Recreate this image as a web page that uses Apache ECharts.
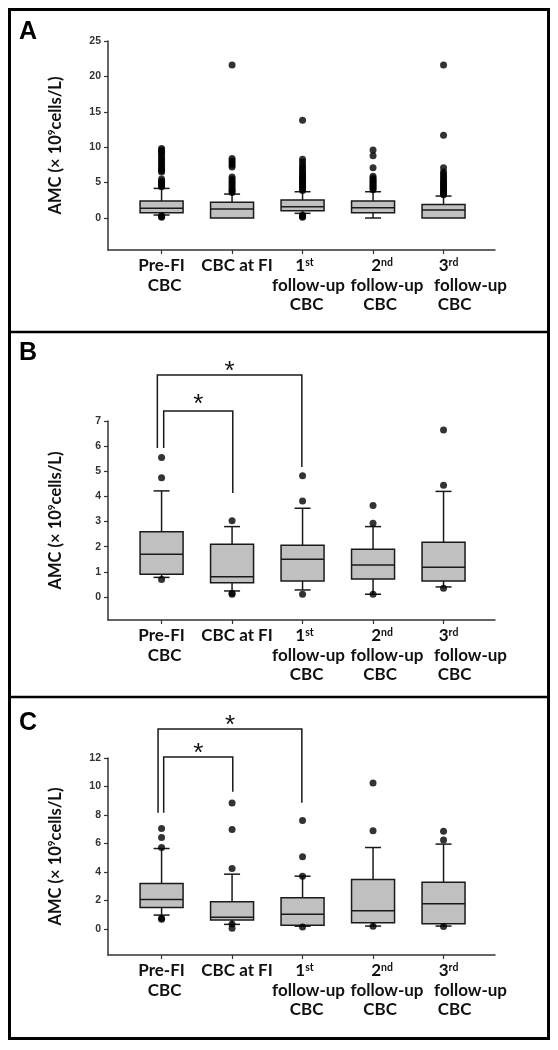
<!DOCTYPE html>
<html><head><meta charset="utf-8">
<script src="https://cdn.jsdelivr.net/npm/echarts@6/dist/echarts.min.js"></script>
<style>html,body{margin:0;padding:0;background:#fff}#c{width:558px;height:1050px}</style>
</head><body><div id="c"></div>
<script>
// ---------- data ----------
const categories = ['Pre-FI\nCBC', 'CBC at FI', '1st\nfollow-up\nCBC', '2nd\nfollow-up\nCBC', '3rd\nfollow-up\nCBC'];
const catX = [0, 1, 2, 3, 4];
const yTitle = '{n|AMC (× 10}{s|9}{n|cells/L)}';
const panelLetters = ['A', 'B', 'C'];

const ticksA = [0, 5, 10, 15, 20, 25];
const ticksB = [0, 1, 2, 3, 4, 5, 6, 7];
const ticksC = [0, 2, 4, 6, 8, 10, 12];

// Panel A
const aLower  = [0.42, 0.00, 0.66, 0.00, 0.00];
const aQ1     = [0.75, 0.00, 1.03, 0.75, 0.00];
const aMedian = [1.37, 1.27, 1.60, 1.46, 1.13];
const aQ3     = [2.40, 2.21, 2.54, 2.39, 1.92];
const aUpper  = [4.18, 3.38, 3.71, 3.71, 3.10];
const aOutliers = [
  [4.4, 4.6, 4.8, 5.0, 5.2, 5.5, 6.5, 6.7, 6.9, 7.1, 7.4, 7.7, 8.0, 8.3, 8.6, 8.9, 9.2, 9.4, 9.6, 9.8, 0.1, 0.2, 0.3],
  [3.6, 3.8, 4.0, 4.3, 4.6, 4.9, 5.2, 5.5, 5.8, 7.2, 7.5, 7.8, 8.1, 8.4, 21.6],
  [3.9, 4.1, 4.3, 4.5, 4.7, 4.9, 5.1, 5.3, 5.5, 5.7, 5.9, 6.1, 6.3, 6.6, 6.9, 7.2, 7.5, 7.9, 8.3, 13.8, 0.1, 0.2, 0.3, 0.4],
  [4.0, 4.2, 4.4, 4.6, 4.8, 5.0, 5.2, 5.4, 5.6, 5.9, 7.1, 8.8, 9.6],
  [3.3, 3.5, 3.7, 3.9, 4.1, 4.3, 4.5, 4.7, 4.9, 5.1, 5.3, 5.6, 5.9, 6.2, 6.5, 7.1, 11.7, 21.6]
];

// Panel B
const bLower  = [0.78, 0.24, 0.28, 0.11, 0.40];
const bQ1     = [0.90, 0.57, 0.64, 0.72, 0.64];
const bMedian = [1.70, 0.81, 1.50, 1.27, 1.18];
const bQ3     = [2.60, 2.10, 2.06, 1.90, 2.18];
const bUpper  = [4.22, 2.80, 3.53, 2.80, 4.20];
const bOutliers = [[5.55, 4.74, 0.70], [3.03, 0.11, 0.15], [4.82, 3.82, 0.11], [3.64, 2.93, 0.11], [6.64, 4.44, 0.35]];
const bBracketX1 = [-0.06, 0.03];
const bBracketX2 = [1.99, 1.01];
const bBracketTop = [8.83, 7.40];
const bBracketLeftEnd = [5.93, 5.93];
const bBracketRightEnd = [5.17, 4.14];
const bStarY = [9.23, 7.92];

// Panel C
const cLower  = [0.98, 0.33, 0.20, 0.21, 0.21];
const cQ1     = [1.52, 0.63, 0.26, 0.45, 0.37];
const cMedian = [2.08, 0.82, 1.03, 1.28, 1.77];
const cQ3     = [3.20, 1.92, 2.19, 3.48, 3.29];
const cUpper  = [5.65, 3.85, 3.71, 5.72, 5.96];
const cOutliers = [[7.05, 6.42, 5.72, 0.75, 0.68], [8.85, 6.98, 4.25, 0.05, 0.35], [7.62, 5.07, 3.71, 0.15], [10.25, 6.89, 0.20], [6.87, 6.24, 0.18]];
const cBracketX1 = [-0.05, 0.03];
const cBracketX2 = [1.99, 1.01];
const cBracketTop = [14.04, 12.07];
const cBracketLeftEnd = [8.16, 8.16];
const cBracketRightEnd = [8.86, 9.64];
const cStarY = [14.74, 12.77];

// ---------- styles ----------
const X_MIN = -0.76, X_MAX = 4.73;
const labelShift = [[0, 3], [5], [2, 6, 4], [9, 14, 7], [5, 27, 11]];
const LINE = '#1a1a1a';
const CAP = 8;
const catFont = 'Lato';
const catSize = 17;

const rich = { sup: { fontSize: 10.5, fontWeight: 'bold', fontFamily: catFont, color: '#111', padding: [0, 0, 6, 0] } };
for (let s = 0; s <= 30; s++) {
  rich['p' + s] = { fontSize: catSize, fontWeight: 'bold', fontFamily: catFont, color: '#111', lineHeight: 19.5, padding: [0, 0, 0, 2 * s] };
}
function fmtCat(v) {
  const i = Math.round(v);
  if (Math.abs(v - i) > 1e-6 || i < 0 || i >= categories.length) return ' ';
  return categories[i].split('\n').map((ln, j) => {
    const key = 'p' + (labelShift[i][j] || 0);
    const m = ln.match(/^(\d)(st|nd|rd|th)$/);
    if (m) return '{' + key + '|' + m[1] + '}{sup|' + m[2] + '}';
    return '{' + key + '|' + ln + '}';
  }).join('\n');
}

const grids = [
  { left: 108, right: 63, top: 41, height: 209 },
  { left: 108, right: 63, top: 421, height: 199 },
  { left: 108, right: 63, top: 758, height: 197 }
];
const yRanges = [[-4.52, 25, ticksA], [-0.915, 7, ticksB], [-1.82, 12, ticksC]];

const xAxes = grids.map((g, i) => ({
  type: 'value', gridIndex: i, min: X_MIN, max: X_MAX,
  axisLine: { show: true, onZero: false, lineStyle: { color: '#333', width: 1.5 } },
  axisTick: { show: true, customValues: catX, length: 4, lineStyle: { color: '#333', width: 1.2 } },
  // trailing blank label at the axis end absorbs the end-label overlap check
  axisLabel: { customValues: catX.concat([X_MAX]), formatter: fmtCat, margin: 6, rich: rich, hideOverlap: false,
    fontSize: catSize, fontFamily: catFont, fontWeight: 'bold', color: '#111' },
  splitLine: { show: false }
}));
const yAxes = yRanges.map((r, i) => ({
  type: 'value', gridIndex: i, min: r[0], max: r[1],
  name: yTitle, nameLocation: 'middle', nameGap: 44,
  nameTextStyle: {
    rich: {
      n: { fontSize: 16.5, fontWeight: 'bold', fontFamily: catFont, color: '#111' },
      s: { fontSize: 10, fontWeight: 'bold', fontFamily: catFont, color: '#111', padding: [0, 0, 7, 0] }
    }
  },
  axisLine: { show: true, onZero: false, lineStyle: { color: '#333', width: 1.5 } },
  axisTick: { show: true, customValues: r[2], length: 4, lineStyle: { color: '#333', width: 1.2 } },
  axisLabel: { customValues: r[2], margin: 7, hideOverlap: false, fontSize: 10.5, fontWeight: 'bold', fontFamily: 'Liberation Sans', color: '#333' },
  splitLine: { show: false }
}));

function boxSeries(idx, q1, med, q3) {
  return {
    type: 'boxplot', xAxisIndex: idx, yAxisIndex: idx, boxWidth: [43, 43], z: 3,
    itemStyle: { color: '#c0c0c0', borderColor: LINE, borderWidth: 1.5 },
    data: catX.map((x, k) => [x, q1[k], q1[k], med[k], q3[k], q3[k]])
  };
}
function whiskerSeries(idx, lo, q1, q3, hi) {
  return {
    type: 'custom', xAxisIndex: idx, yAxisIndex: idx, z: 2,
    data: catX.map((x, k) => [x, lo[k], q1[k], q3[k], hi[k]]),
    renderItem: function (params, api) {
      const x = api.value(0), l = api.value(1), a = api.value(2), b = api.value(3), h = api.value(4);
      const st = { stroke: LINE, lineWidth: 1.5 };
      const ch = [];
      const seg = (v0, v1) => {
        const p0 = api.coord([x, v0]), p1 = api.coord([x, v1]);
        ch.push({ type: 'line', shape: { x1: p0[0], y1: p0[1], x2: p1[0], y2: p1[1] }, style: st });
        ch.push({ type: 'line', shape: { x1: p1[0] - CAP, y1: p1[1], x2: p1[0] + CAP, y2: p1[1] }, style: st });
      };
      if (h > b) seg(b, h);
      if (l < a) seg(a, l);
      return { type: 'group', children: ch };
    }
  };
}
function outlierSeries(idx, outs) {
  const d = [];
  outs.forEach((arr, k) => arr.forEach(v => d.push([catX[k], v])));
  return { type: 'scatter', xAxisIndex: idx, yAxisIndex: idx, z: 4, symbol: 'circle', symbolSize: 7,
    itemStyle: { color: '#000' }, data: d };
}
function bracketSeries(idx, x1, x2, top, le, re, sy) {
  return {
    type: 'custom', xAxisIndex: idx, yAxisIndex: idx, clip: false, z: 5,
    data: x1.map((v, k) => [v, x2[k], top[k], le[k], re[k], sy[k]]),
    renderItem: function (params, api) {
      const a = api.value(0), b = api.value(1), t = api.value(2), l = api.value(3), r = api.value(4), s = api.value(5);
      const p1 = api.coord([a, l]), p2 = api.coord([a, t]), p3 = api.coord([b, t]), p4 = api.coord([b, r]);
      const ps = api.coord([(a + b) / 2, s]);
      return { type: 'group', children: [
        { type: 'polyline', shape: { points: [p1, p2, p3, p4] }, style: { stroke: LINE, lineWidth: 1.5, fill: null } },
        { type: 'text', x: ps[0], y: ps[1] + 7, style: { text: '*', fontSize: 26, fontFamily: 'Liberation Sans', fill: '#111', align: 'center', verticalAlign: 'middle' } }
      ] };
    }
  };
}

const series = [
  whiskerSeries(0, aLower, aQ1, aQ3, aUpper), boxSeries(0, aQ1, aMedian, aQ3), outlierSeries(0, aOutliers),
  whiskerSeries(1, bLower, bQ1, bQ3, bUpper), boxSeries(1, bQ1, bMedian, bQ3), outlierSeries(1, bOutliers),
  bracketSeries(1, bBracketX1, bBracketX2, bBracketTop, bBracketLeftEnd, bBracketRightEnd, bStarY),
  whiskerSeries(2, cLower, cQ1, cQ3, cUpper), boxSeries(2, cQ1, cMedian, cQ3), outlierSeries(2, cOutliers),
  bracketSeries(2, cBracketX1, cBracketX2, cBracketTop, cBracketLeftEnd, cBracketRightEnd, cStarY)
];

const letterY = [20, 341, 711];
const graphic = [
  { type: 'rect', shape: { x: 9.5, y: 9.5, width: 539, height: 1029 }, style: { fill: null, stroke: '#000', lineWidth: 3 } },
  { type: 'line', shape: { x1: 9, y1: 332, x2: 549, y2: 332 }, style: { stroke: '#000', lineWidth: 2.5 } },
  { type: 'line', shape: { x1: 9, y1: 697, x2: 549, y2: 697 }, style: { stroke: '#000', lineWidth: 2.5 } }
].concat(panelLetters.map((t, i) => ({
  type: 'text', x: 19, y: letterY[i],
  style: { text: t, fontSize: 25, fontWeight: 'bold', fontFamily: 'Liberation Sans', fill: '#000' }
})));

const chart = echarts.init(document.getElementById('c'), null, { renderer: 'canvas' });
chart.setOption({
  animation: false,
  backgroundColor: '#fff',
  grid: grids,
  xAxis: xAxes,
  yAxis: yAxes,
  series: series,
  graphic: graphic
});
</script>
</body></html>
